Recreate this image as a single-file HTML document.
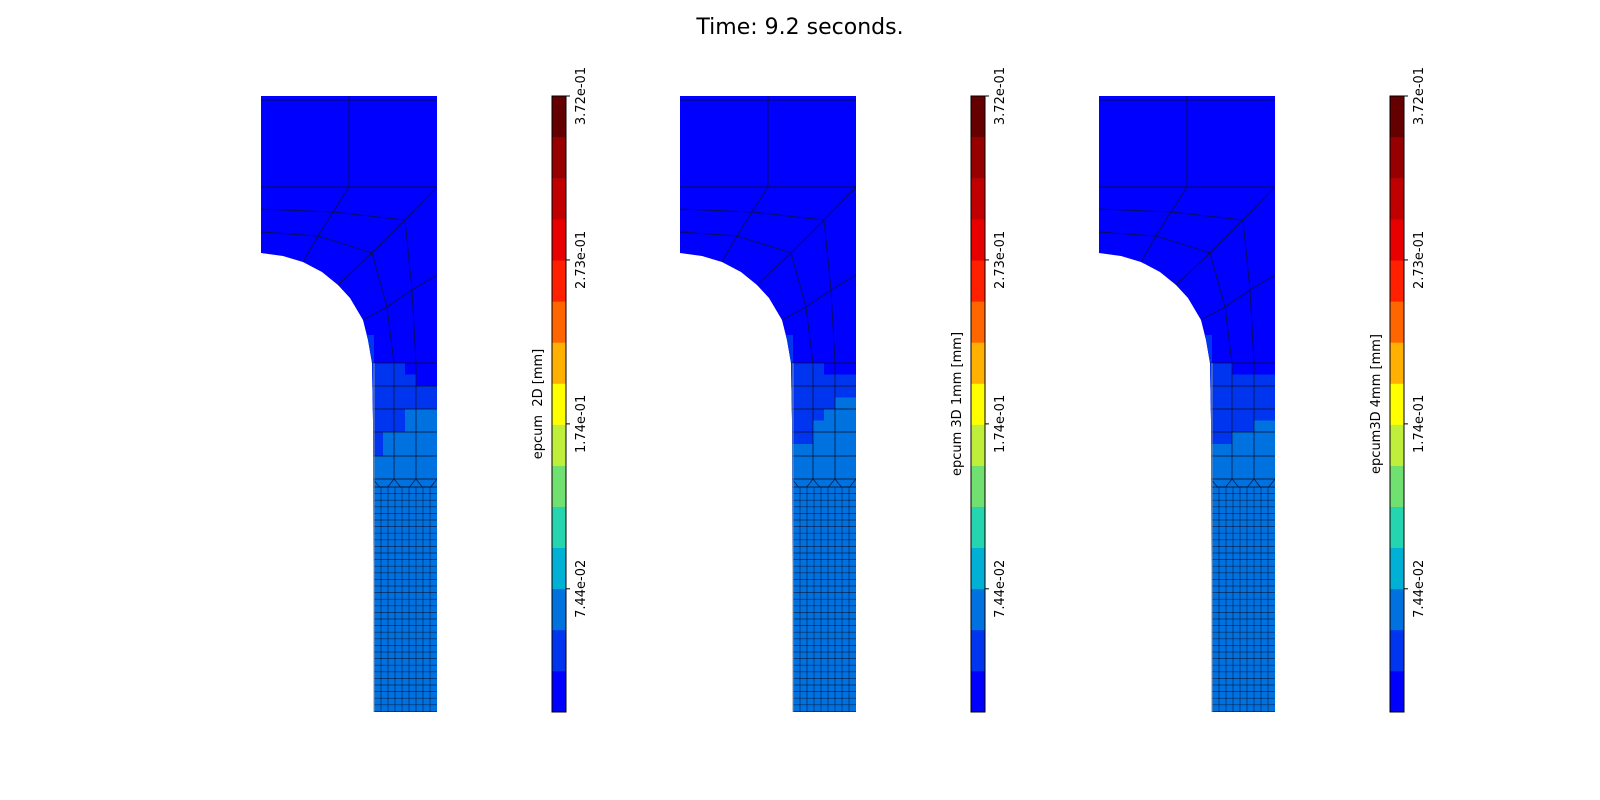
<!DOCTYPE html>
<html><head><meta charset="utf-8"><style>
html,body{margin:0;padding:0;background:#fff}
svg{display:block;font-family:"DejaVu Sans","Liberation Sans",sans-serif}
</style></head><body>
<svg id="fig" width="1600" height="800" viewBox="0 0 1600 800">
<text x="800" y="34" text-anchor="middle" font-size="22" fill="#000">Time: 9.2 seconds.</text>
</svg>
<script>
// colorbar data
const cbMin = 0.0;
const cbMax = 0.372;
const bandColors = ["#0000ff","#0035ef","#0072e0","#00b0d5","#25d5b0","#70e070","#bfef3a","#ffff00","#ffb000","#ff6600","#ff2000","#e80000","#c00000","#960000","#640000"];
const tickValues = [0.0744, 0.174, 0.273, 0.372];
const tickLabels = ["7.44e-02","1.74e-01","2.73e-01","3.72e-01"];
const panelLabels = ["epcum  2D [mm]","epcum 3D 1mm [mm]","epcum3D 4mm [mm]"];
// cell values (strain) for 10 sub-rows x 6 sub-cols of the neck transition region
const cellsPanel1 = [
[0.035,0.035,0.035,0.01,0.01,0.01],
[0.035,0.035,0.035,0.035,0.01,0.01],
[0.035,0.035,0.035,0.035,0.035,0.035],
[0.035,0.035,0.035,0.035,0.035,0.035],
[0.035,0.035,0.035,0.06,0.06,0.06],
[0.035,0.035,0.035,0.06,0.06,0.06],
[0.035,0.06,0.06,0.06,0.06,0.06],
[0.035,0.06,0.06,0.06,0.06,0.06],
[0.06,0.06,0.06,0.06,0.06,0.06],
[0.06,0.06,0.06,0.06,0.06,0.06]];
const cellsPanel2 = [
[0.035,0.035,0.035,0.01,0.01,0.01],
[0.035,0.035,0.035,0.035,0.035,0.035],
[0.035,0.035,0.035,0.035,0.035,0.035],
[0.035,0.035,0.035,0.035,0.06,0.06],
[0.035,0.035,0.035,0.06,0.06,0.06],
[0.035,0.035,0.06,0.06,0.06,0.06],
[0.035,0.035,0.06,0.06,0.06,0.06],
[0.06,0.06,0.06,0.06,0.06,0.06],
[0.06,0.06,0.06,0.06,0.06,0.06],
[0.06,0.06,0.06,0.06,0.06,0.06]];
const cellsPanel3 = [
[0.035,0.035,0.01,0.01,0.01,0.01],
[0.035,0.035,0.035,0.035,0.035,0.035],
[0.035,0.035,0.035,0.035,0.035,0.035],
[0.035,0.035,0.035,0.035,0.035,0.035],
[0.035,0.035,0.035,0.035,0.035,0.035],
[0.035,0.035,0.035,0.035,0.06,0.06],
[0.035,0.035,0.06,0.06,0.06,0.06],
[0.06,0.06,0.06,0.06,0.06,0.06],
[0.06,0.06,0.06,0.06,0.06,0.06],
[0.06,0.06,0.06,0.06,0.06,0.06]];
const fineValue = 0.06;
const bulkValue = 0.01;
const filletValue = 0.035;

const NS = "http://www.w3.org/2000/svg";
const svg = document.getElementById("fig");
function mk(tag, attrs, parent){const e=document.createElementNS(NS,tag);for(const k in attrs)e.setAttribute(k,attrs[k]);(parent||svg).appendChild(e);return e;}
function colorOf(v){let i=Math.floor((v-cbMin)/(cbMax-cbMin)*bandColors.length);i=Math.max(0,Math.min(bandColors.length-1,i));return bandColors[i];}
const cbTop=96, cbBot=712;
function cbY(v){return cbBot-(v-cbMin)/(cbMax-cbMin)*(cbBot-cbTop);}

const allCells=[cellsPanel1,cellsPanel2,cellsPanel3];
const subX=[372,383,394,405,416,426.5,437];
const subY=[363,374.5,386,397.5,409,420.5,432,444,456,467.5,479];
const defs=mk("defs",{});

for(let p=0;p<3;p++){
  const dx=p*419;
  const g=mk("g",{transform:`translate(${dx},0)`});
  
  
  const outline="M261,96 L437,96 L437,712 L374,712 L373,420 L372,363 L368,340 L363,320 L350,298 L338,285 L322,272 L303,262 L283,256 L261,253 Z";
  const cp=mk("clipPath",{id:"clip"+p},defs);
  mk("path",{d:outline},cp);
  const body=mk("path",{d:outline,fill:colorOf(bulkValue)},g);
  
  
  const cg=mk("g",{"clip-path":`url(#clip${p})`},g);
  mk("rect",{x:362,y:335,width:12,height:28,fill:colorOf(filletValue)},cg);
  const cells=allCells[p];
  for(let r=0;r<cells.length;r++)for(let c=0;c<cells[r].length;c++){
    const rc=mk("rect",{x:subX[c],y:subY[r],width:subX[c+1]-subX[c]+0.3,height:subY[r+1]-subY[r]+0.3,fill:colorOf(cells[r][c])},cg);
    
    
  }
  const fine=mk("rect",{x:372,y:479,width:65,height:233,fill:colorOf(fineValue)},cg);
  
  
  // mesh lines
  const lg=mk("g",{fill:"none",stroke:"#0a1030","stroke-width":"0.9","stroke-opacity":"0.8","clip-path":`url(#clip${p})`},g);
  const lines=[
    [[261,100],[437,100]],
    [[349,96],[349,187]],
    [[261,187],[437,187]],
    [[261,209],[333,212],[405,220]],
    [[261,232],[318,236],[372,253]],
    [[349,187],[333,212],[318,236],[303,262]],
    [[437,187],[405,220],[372,253],[338,285]],
    [[405,220],[412,290],[416,363]],
    [[372,253],[387,307],[394,363]],
    [[437,275],[412,290],[387,307],[363,320]],
    [[394,363],[394,479]],[[416,363],[416,479]]
  ];
  [363,386,409,432,456,479,487].forEach(y=>lines.push([[370,y],[437,y]]));
  const coarse=[[373,394],[394,416],[416,437]];
  coarse.forEach(([a,b])=>lines.push([[a,479],[a+(b-a)*0.3,487],[b-(b-a)*0.3,487],[b,479]]));
  lines.forEach(pts=>mk("polyline",{points:pts.map(q=>q.join(",")).join(" ")},lg));
  const fg=mk("g",{stroke:"#0a1030","stroke-width":"0.7","stroke-opacity":"0.75"},g);
  for(let i=1;i<9;i++){const x=374+i*7;mk("line",{x1:x,y1:487,x2:x,y2:712},fg);}
  for(let y=487+6.6;y<712;y+=6.6)mk("line",{x1:374,y1:y,x2:437,y2:y},fg);
  mk("line",{x1:374,y1:363,x2:374,y2:712,stroke:"#8090a8","stroke-width":"1"},g);

  // colorbar
  const cx=552+dx;
  const cb=mk("g",{});
  
  
  bandColors.forEach((col,i)=>{
    const v0=cbMin+i*(cbMax-cbMin)/bandColors.length, v1=cbMin+(i+1)*(cbMax-cbMin)/bandColors.length;
    const b=mk("rect",{x:cx,y:cbY(v1),width:14,height:cbY(v0)-cbY(v1)+0.3,fill:col},cb);
    
    
  });
  mk("rect",{x:cx,y:cbTop,width:14,height:cbBot-cbTop,fill:"none",stroke:"#000","stroke-width":"1"},cb);
  tickValues.forEach((v,i)=>{
    const y=cbY(v);
    mk("line",{x1:cx+14,y1:y,x2:cx+18,y2:y,stroke:"#000","stroke-width":"1"},cb);
    const t=mk("text",{x:0,y:0,"font-size":"13","text-anchor":"middle",transform:`translate(${cx+33},${y}) rotate(-90)`},cb);
    t.textContent=tickLabels[i];
    
    
  });
  const lab=mk("text",{x:0,y:0,"font-size":"13","text-anchor":"middle",style:"white-space:pre",transform:`translate(${cx-10},${(cbTop+cbBot)/2}) rotate(-90)`},cb);
  lab.textContent=panelLabels[p];
  
  
}
</script>
</body></html>
